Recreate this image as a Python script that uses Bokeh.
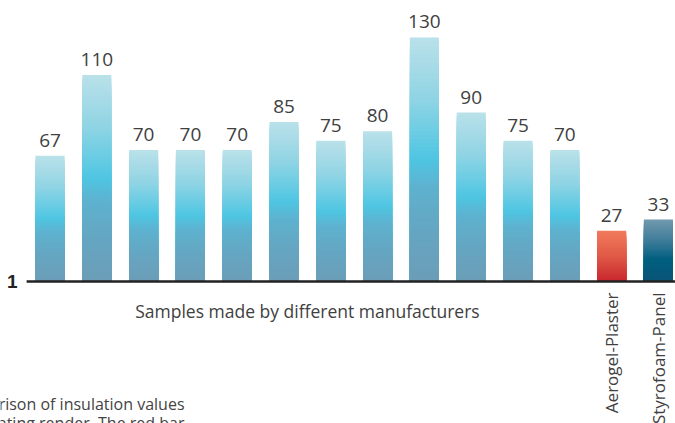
import numpy as np
from bokeh.plotting import figure
from bokeh.models import Range1d, Label, ColumnDataSource
from bokeh.core.properties import value
from bokeh.embed import file_html
from bokeh.resources import INLINE

# ---- data ----
values = [67, 110, 70, 70, 70, 85, 75, 80, 130, 90, 75, 70, 27, 33]
bar_labels = ["", "", "", "", "", "", "", "", "", "", "", "", "Aerogel-Plaster", "Styrofoam-Panel"]
group_label = "Samples made by different manufacturers"
group_size = 12
baseline_label = "1"
caption_lines = ["Comparison of insulation values",
                 "compared with an insulating render. The red bar"]

# gradient stops (fraction from top, colour)
blue_stops = [(0.0, "#bae1e9"), (0.25, "#90d4e4"), (0.5, "#4ec6e3"),
              (0.6, "#5db3d0"), (0.75, "#63a8c4"), (1.0, "#6c9db7")]
red_stops = [(0.0, "#f17b5c"), (0.5, "#e05a47"), (1.0, "#c8262e")]
styro_stops = [(0.0, "#7299ae"), (0.35, "#3d7c99"), (0.65, "#005f80"), (1.0, "#0b5476")]
bar_stops = [blue_stops] * 12 + [red_stops, styro_stops]

FONT = "Open Sans"
TEXT_COLOR = "#404040"


def hex2rgb(h):
    h = h.lstrip("#")
    return np.array([int(h[i:i + 2], 16) for i in (0, 2, 4)], dtype=float)


def interp_color(stops, t):
    for (t0, c0), (t1, c1) in zip(stops[:-1], stops[1:]):
        if t0 <= t <= t1:
            f = (t - t0) / (t1 - t0) if t1 > t0 else 0
            c = hex2rgb(c0) * (1 - f) + hex2rgb(c1) * f
            return "#%02x%02x%02x" % tuple(int(round(v)) for v in c)
    return stops[-1][1]


p = figure(width=675, height=423, output_backend="svg", toolbar_location=None,
           x_range=Range1d(-1.058, 13.365), y_range=Range1d(-75.65, 149.7),
           min_border=0, outline_line_color=None)
p.axis.visible = False
p.grid.visible = False
p.background_fill_color = "white"
p.border_fill_color = "white"

# gradient bars, drawn as nested slices (largest first)
N = 60
xs, tops, cols = [], [], []
for i, (v, stops) in enumerate(zip(values, bar_stops)):
    for k in range(N):
        frac_top = 1 - k / N
        t = k / N + 0.5 / N
        xs.append(i)
        tops.append(v * frac_top)
        cols.append(interp_color(stops, t))
src = ColumnDataSource(dict(x=xs, top=tops, color=cols))
p.vbar(x="x", top="top", bottom=0, width=0.62, fill_color="color",
       line_color=None, source=src)

idx = list(range(len(values)))

# value labels
p.text(x=idx, y=values, text=[str(v) for v in values], text_align="center",
       text_baseline="bottom", y_offset=-9, text_font=value(FONT),
       text_font_size="19px", text_color=TEXT_COLOR)

# baseline axis line
p.segment(x0=[-0.5], y0=[0], x1=[len(values) - 0.5], y1=[0],
          line_color="#222222", line_width=2.5)

# baseline label
p.add_layout(Label(x=17, x_units="screen", y=0, text=baseline_label,
                   text_align="right", text_baseline="alphabetic",
                   text_font="Liberation Sans", text_font_style="bold",
                   text_font_size="19px", text_color="#222222"))

# group label
p.text(x=[np.mean(idx[:group_size])], y=[0], text=[group_label],
       text_align="center", text_baseline="middle", y_offset=30,
       text_font=value(FONT), text_font_size="17.5px", text_color=TEXT_COLOR)

# rotated bar labels
lab_x = [i for i, l in zip(idx, bar_labels) if l]
lab_t = [l for l in bar_labels if l]
p.text(x=lab_x, y=[0] * len(lab_x), text=lab_t, angle=np.pi / 2,
       text_align="right", text_baseline="middle", y_offset=11,
       text_font=value(FONT), text_font_size="17px", text_color=TEXT_COLOR)

# cut-off caption
for j, line in enumerate(caption_lines):
    p.add_layout(Label(x=184, x_units="screen", y=20 - 19 * j, y_units="screen",
                       text=line, text_align="right", text_baseline="alphabetic",
                       text_font=FONT, text_font_size="16px", text_color="#444444"))

open("out.html", "w").write(file_html(p, INLINE))
